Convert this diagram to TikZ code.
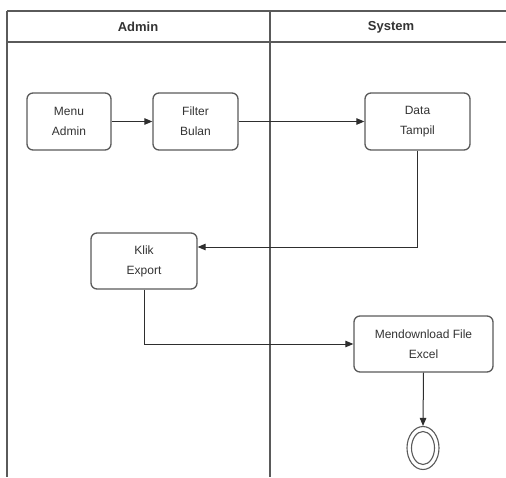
\documentclass[tikz,border=0pt]{standalone}
\usepackage{fontspec}
\setmainfont{Liberation Sans}
\usetikzlibrary{arrows.meta,shapes.geometric}
\definecolor{lanecol}{HTML}{5A5A5A}
\definecolor{linecol}{HTML}{2E2E2E}
\definecolor{textcol}{HTML}{333333}
\begin{document}
\begin{tikzpicture}[x=1pt,y=-1pt,
  lane/.style={draw=lanecol,line width=1.3pt},
  act/.style={draw=lanecol,line width=1.3pt,rounded corners=6pt,fill=white,
    align=center,text=textcol,font=\fontsize{12}{20}\selectfont,inner sep=2pt},
  head/.style={text=textcol,font=\fontsize{13}{15}\selectfont\bfseries},
  flow/.style={draw=linecol,line width=1pt,-{Triangle[length=8pt,width=6.5pt]}},
  endring/.style={ellipse,draw=lanecol,line width=1.1pt,inner sep=0pt}]
\useasboundingbox (0,0) rectangle (506,477);
% swimlane frame
\draw[lane] (7,11) -- (506,11);
\draw[lane] (7,42) -- (506,42);
\draw[lane] (7,11) -- (7,477);
\draw[lane] (270,11) -- (270,477);
\node[head] (hadmin) at (138,27) {Admin};
\node[head] (hsystem) at (391,27) {System};
% activities
\node[act,minimum width=84pt,minimum height=57pt] (menu) at (69,121.5) {Menu\\Admin};
\node[act,minimum width=85pt,minimum height=57pt] (filter) at (195.5,121.5) {Filter\\Bulan};
\node[act,minimum width=105pt,minimum height=57pt] (data) at (417.5,121.5) {Data\\Tampil};
\node[act,minimum width=106pt,minimum height=56pt] (klik) at (144,261) {Klik\\Export};
\node[act,minimum width=139pt,minimum height=56pt] (mend) at (423.5,344) {Mendownload File\\Excel};
% final state
\node[endring,minimum width=32pt,minimum height=43pt] (final) at (423,448) {};
\node[endring,minimum width=23pt,minimum height=33pt] (finalin) at (423,448) {};
% flows
\draw[flow] (menu) -- (filter);
\draw[flow] (filter) -- (data);
\draw[flow] (data.south) |- ([yshift=14pt]klik.east);
\draw[flow] (klik.south) |- (mend.west);
\draw[flow] (mend.south) -- (final.north);
\end{tikzpicture}
\end{document}
